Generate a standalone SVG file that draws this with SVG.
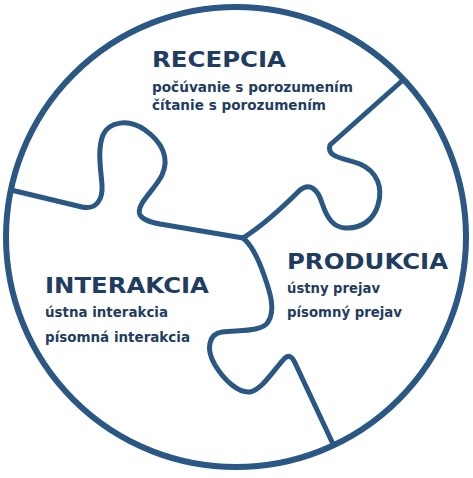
<svg xmlns="http://www.w3.org/2000/svg" width="473" height="478" viewBox="0 0 473 478">
<style>
.ring{fill:none;stroke:#2a5783;stroke-width:6}
.cut{fill:none;stroke:#2a5783;stroke-width:5;stroke-linecap:round;stroke-linejoin:round}
.h{font-family:"DejaVu Sans","Liberation Sans",sans-serif;font-weight:bold;font-size:22px;fill:#1f3d60}
.b{font-family:"DejaVu Sans","Liberation Sans",sans-serif;font-weight:bold;font-size:14px;fill:#1f3d60}
</style>
<rect width="473" height="478" fill="#ffffff"/>
<g id="connectors">
<circle class="ring" cx="236" cy="237" r="230"/>
<path class="cut" d="M 11 190 L 82 207 C 96 210 103 200 102 185 C 101 170 97 150 103 135 C 109 122 128 118 145 130 C 162 142 170 158 162 175 C 155 190 135 205 140 215 C 143 220 150 222 160 224 L 243 238"/>
<path class="cut" d="M 243 238 C 262 226 285 205 300 190 C 310 182 318 190 322 203 C 327 218 333 227 345 228 C 362 229 374 219 378 205 C 383 188 378 172 360 164 C 345 158 326 158 330 145 L 403 80"/>
<path class="cut" d="M 243 238 C 252 245 258 258 264 275 C 270 292 276 310 268 322 C 262 332 240 330 222 332 C 208 334 206 350 215 365 C 224 380 238 393 250 392 C 262 390 275 368 285 358 C 290 354 293 358 296 365 L 333 444"/>
</g>
<g id="recepcia">
<text class="h" x="152" y="67" textLength="134" lengthAdjust="spacingAndGlyphs">RECEPCIA</text>
<text class="b" x="152" y="92" textLength="201" lengthAdjust="spacingAndGlyphs">počúvanie s porozumením</text>
<text class="b" x="152" y="110" textLength="174" lengthAdjust="spacingAndGlyphs">čítanie s porozumením</text>
</g>
<g id="interakcia">
<text class="h" x="45" y="293" textLength="164" lengthAdjust="spacingAndGlyphs">INTERAKCIA</text>
<text class="b" x="45" y="317" textLength="123" lengthAdjust="spacingAndGlyphs">ústna interakcia</text>
<text class="b" x="45" y="342" textLength="145" lengthAdjust="spacingAndGlyphs">písomná interakcia</text>
</g>
<g id="produkcia">
<text class="h" x="287" y="269" textLength="161" lengthAdjust="spacingAndGlyphs">PRODUKCIA</text>
<text class="b" x="287" y="293" textLength="93" lengthAdjust="spacingAndGlyphs">ústny prejav</text>
<text class="b" x="287" y="317" textLength="115" lengthAdjust="spacingAndGlyphs">písomný prejav</text>
</g>
</svg>
